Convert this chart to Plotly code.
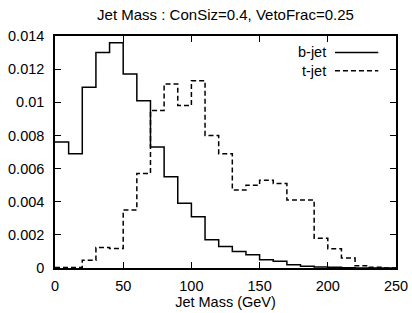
import plotly.graph_objects as go

# ---- data ----
bin_edges = list(range(0, 260, 10))  # 0..250
b_jet = [0.0076, 0.0069, 0.0109, 0.0130, 0.0136, 0.0117, 0.0101, 0.0073, 0.0055,
         0.0039, 0.0031, 0.0017, 0.0013, 0.0010, 0.0008, 0.0005, 0.0004, 0.0002,
         0.0001, 0.00006, 0.00004, 0.00002, 0.0, 0.0, 0.0]
t_jet = [0.00003, 0.00003, 0.00047, 0.00124, 0.00118, 0.0035, 0.0057, 0.0095, 0.0111,
         0.0098, 0.0113, 0.0080, 0.0069, 0.0047, 0.0050, 0.0053, 0.0051, 0.0041,
         0.0041, 0.0018, 0.00116, 0.0006, 0.00014, 0.00004, 0.0]
series_names = ["b-jet", "t-jet"]
x_tick_vals = [0, 50, 100, 150, 200, 250]
x_tick_text = ["0", "50", "100", "150", "200", "250"]
y_tick_vals = [0, 0.002, 0.004, 0.006, 0.008, 0.01, 0.012, 0.014]
y_tick_text = ["0", "0.002", "0.004", "0.006", "0.008", "0.01", "0.012", "0.014"]
title_text = "Jet Mass : ConSiz=0.4, VetoFrac=0.25"
x_title = "Jet Mass (GeV)"

FONT = "Liberation Sans, Arial, sans-serif"
FS = 14.5
dashes = ["solid", "5px,3px"]

fig = go.Figure()
for name, vals, dash in zip(series_names, [b_jet, t_jet], dashes):
    fig.add_trace(go.Scatter(
        x=bin_edges, y=vals + [vals[-1]], mode="lines", name=name,
        line=dict(shape="hv", color="black", width=1.5, dash=dash),
        showlegend=False, hoverinfo="skip"))

# gnuplot-style key: text on the left, sample on the right
key_y = [0.929, 0.850]
for name, dash, ky in zip(series_names, dashes, key_y):
    fig.add_annotation(x=0.800, y=ky, xref="paper", yref="paper", text=name,
                       showarrow=False, xanchor="right", yanchor="middle",
                       font=dict(family=FONT, size=FS, color="black"))
    fig.add_shape(type="line", xref="paper", yref="paper", x0=0.821, x1=0.948,
                  y0=ky, y1=ky, line=dict(color="black", width=1.5, dash=dash))

axis_common = dict(showline=True, linecolor="black", linewidth=1.5, mirror="ticks",
                   ticks="inside", ticklen=6, tickwidth=1, tickcolor="black",
                   showgrid=False, zeroline=False, automargin=False,
                   tickfont=dict(family=FONT, size=FS, color="black"))

fig.update_layout(
    width=412, height=313, autosize=False,
    margin=dict(l=55, r=16, t=36, b=45, autoexpand=False),
    paper_bgcolor="white", plot_bgcolor="white",
    title=dict(text=title_text, x=0.5, xref="paper", xanchor="center",
               y=0.952, yref="container", yanchor="middle", automargin=False,
               font=dict(family=FONT, size=15, color="black")),
    xaxis=dict(range=[0, 250], tickvals=x_tick_vals, ticktext=x_tick_text,
               ticklabelstandoff=4,
               title=dict(text=x_title, standoff=4,
                          font=dict(family=FONT, size=FS, color="black")),
               **axis_common),
    yaxis=dict(range=[0, 0.014], tickvals=y_tick_vals, ticktext=y_tick_text,
               ticklabelstandoff=6,
               **axis_common),
)

fig.write_html("out.html", config={"displayModeBar": False},
               post_script="document.body.style.margin='0px';")
